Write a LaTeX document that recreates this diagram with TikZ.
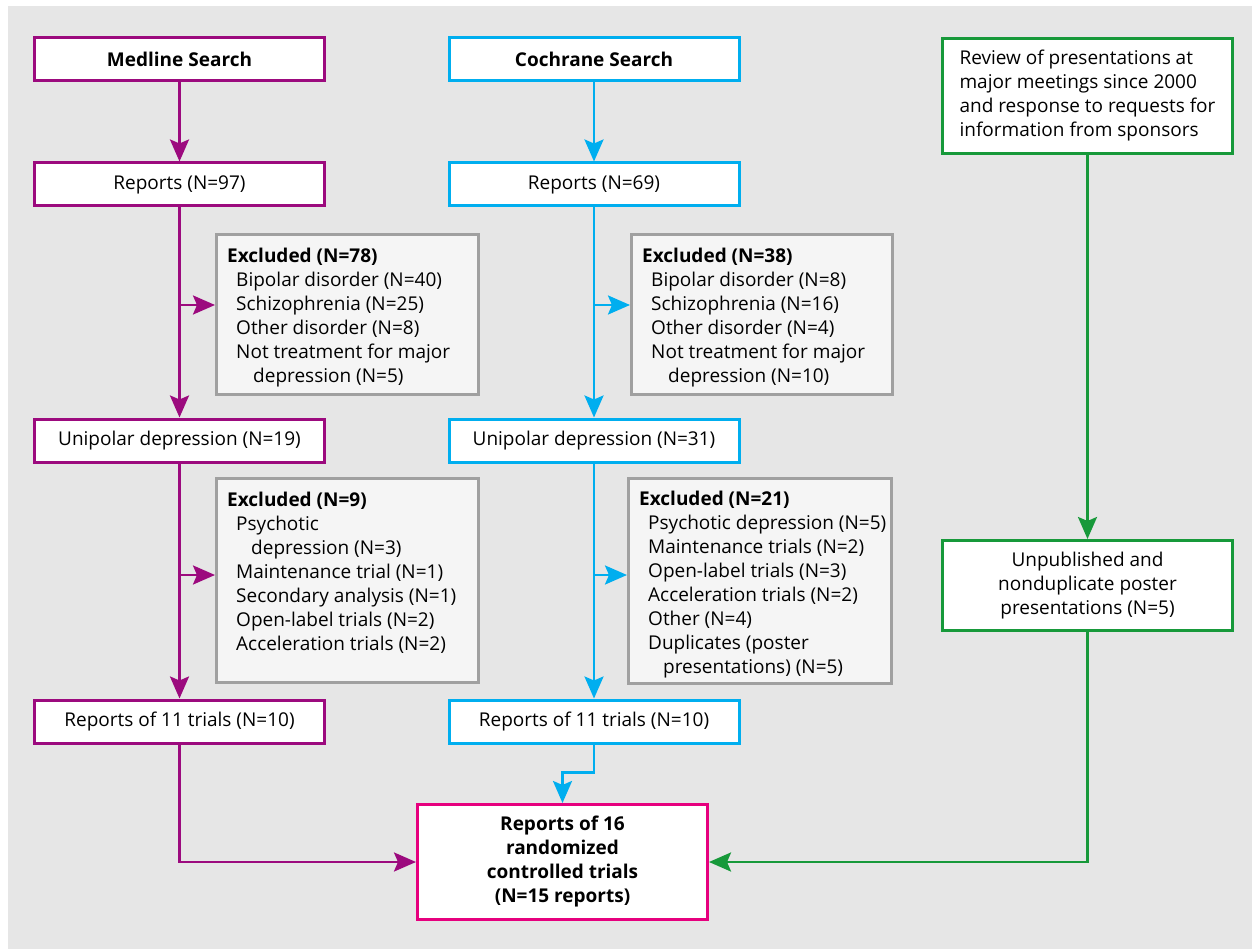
\documentclass[tikz,border=0pt]{standalone}
\usepackage{fontspec}
\setmainfont{Open Sans}
\usetikzlibrary{arrows.meta}
\definecolor{medc}{HTML}{9C0A7E}
\definecolor{cochc}{HTML}{00AEEF}
\definecolor{grc}{HTML}{17993A}
\definecolor{finc}{HTML}{E6007E}
\definecolor{bgc}{HTML}{E6E6E6}
\definecolor{excfill}{HTML}{F5F5F5}
\definecolor{excdraw}{HTML}{A0A0A0}
\begin{document}
\begin{tikzpicture}[x=1pt,y=-1pt,
  every node/.style={font=\fontsize{19}{24}\selectfont, inner sep=0pt, text=black},
  box/.style={draw, line width=3pt, fill=white, minimum width=290pt, minimum height=43pt, align=center},
  medbox/.style={box, draw=medc},
  cochbox/.style={box, draw=cochc},
  grbox/.style={box, draw=grc},
  excbox/.style={draw=excdraw, line width=3pt, fill=excfill},
  exctext/.style={anchor=north west, align=left},
  arr/.style={line width=2.7pt, -{Stealth[length=22pt,width=19pt,inset=4pt]}},
  medarr/.style={arr, draw=medc},
  cocharr/.style={arr, draw=cochc},
  grarr/.style={arr, draw=grc}
]
\useasboundingbox (0,0) rectangle (1252,949);
\fill[bgc] (8,6) rectangle (1252,949);

% Medline column
\node[medbox, font=\fontsize{19}{24}\selectfont\bfseries] (med) at (179.5,59.5) {Medline Search};
\node[medbox] (medrep) at (179.5,184.5) {Reports (N=97)};
\node[excbox, minimum width=262pt, minimum height=160pt] (medexc) at (347.5,314.5) {};
\node[exctext] (medexct) at ([shift={(12,15)}]medexc.north west)
  {\textbf{Excluded (N=78)}\\
   \hspace*{9pt}Bipolar disorder (N=40)\\
   \hspace*{9pt}Schizophrenia (N=25)\\
   \hspace*{9pt}Other disorder (N=8)\\
   \hspace*{9pt}Not treatment for major\\
   \hspace*{26pt}depression (N=5)};
\node[medbox] (meduni) at (179.5,440.5) {Unipolar depression (N=19)};
\node[excbox, minimum width=262pt, minimum height=204pt] (medexc2) at (347.5,580.5) {};
\node[exctext] (medexc2t) at ([shift={(12,15)}]medexc2.north west)
  {\textbf{Excluded (N=9)}\\
   \hspace*{9pt}Psychotic\\
   \hspace*{24pt}depression (N=3)\\
   \hspace*{9pt}Maintenance trial (N=1)\\
   \hspace*{9pt}Secondary analysis (N=1)\\
   \hspace*{9pt}Open-label trials (N=2)\\
   \hspace*{9pt}Acceleration trials (N=2)};
\node[medbox] (medtri) at (179.5,721.5) {Reports of 11 trials (N=10)};

% Cochrane column
\node[cochbox, font=\fontsize{19}{24}\selectfont\bfseries] (coch) at (594,59.5) {Cochrane Search};
\node[cochbox] (cochrep) at (594,184.5) {Reports (N=69)};
\node[excbox, minimum width=261pt, minimum height=160pt] (cochexc) at (762,314.5) {};
\node[exctext] (cochexct) at ([shift={(12,15)}]cochexc.north west)
  {\textbf{Excluded (N=38)}\\
   \hspace*{9pt}Bipolar disorder (N=8)\\
   \hspace*{9pt}Schizophrenia (N=16)\\
   \hspace*{9pt}Other disorder (N=4)\\
   \hspace*{9pt}Not treatment for major\\
   \hspace*{26pt}depression (N=10)};
\node[cochbox] (cochuni) at (594,440.5) {Unipolar depression (N=31)};
\node[excbox, minimum width=263pt, minimum height=205pt] (cochexc2) at (760,581) {};
\node[exctext] (cochexc2t) at ([shift={(12,14)}]cochexc2.north west)
  {\textbf{Excluded (N=21)}\\
   \hspace*{9pt}Psychotic depression (N=5)\\
   \hspace*{9pt}Maintenance trials (N=2)\\
   \hspace*{9pt}Open-label trials (N=3)\\
   \hspace*{9pt}Acceleration trials (N=2)\\
   \hspace*{9pt}Other (N=4)\\
   \hspace*{9pt}Duplicates (poster\\
   \hspace*{24pt}presentations) (N=5)};
\node[cochbox] (cochtri) at (594,721.5) {Reports of 11 trials (N=10)};

% Green column
\node[grbox, minimum height=115pt, align=left] (rev) at (1087.5,96)
  {Review of presentations at\\ major meetings since 2000\\ and response to requests for\\ information from sponsors};
\node[grbox, minimum height=90pt] (unp) at (1087.5,585.5)
  {Unpublished and\\ nonduplicate poster\\ presentations (N=5)};

% Final
\node[box, draw=finc, minimum width=290pt, minimum height=115pt, font=\fontsize{19}{24}\selectfont\bfseries] (final) at (562.5,862)
  {Reports of 16\\ randomized\\ controlled trials\\ (N=15 reports)};

% Connectors: Medline
\coordinate (mb1) at ([yshift=9.5pt]medexc.west);
\coordinate (mb2) at ([yshift=5.5pt]medexc2.west);
\draw[medarr] (med) -- (medrep);
\draw[medarr] (medrep) -- (meduni);
\draw[medarr] (medrep.south |- mb1) -- (mb1);
\draw[medarr] (meduni) -- (medtri);
\draw[medarr] (meduni.south |- mb2) -- (mb2);
\draw[medarr] (medtri.south) |- (final.west);

% Connectors: Cochrane
\coordinate (cb1) at ([yshift=9.5pt]cochexc.west);
\coordinate (cb2) at ([yshift=6pt]cochexc2.west);
\draw[cocharr] (coch) -- (cochrep);
\draw[cocharr] (cochrep) -- (cochuni);
\draw[cocharr] (cochrep.south |- cb1) -- (cb1);
\draw[cocharr] (cochuni) -- (cochtri);
\draw[cocharr] (cochuni.south |- cb2) -- (cb2);
\draw[cocharr] (cochtri.south) -- ++(0,28) -| (final.north);

% Connectors: green
\draw[grarr] (rev) -- (unp);
\draw[grarr] (unp.south) |- (final.east);
\end{tikzpicture}
\end{document}
